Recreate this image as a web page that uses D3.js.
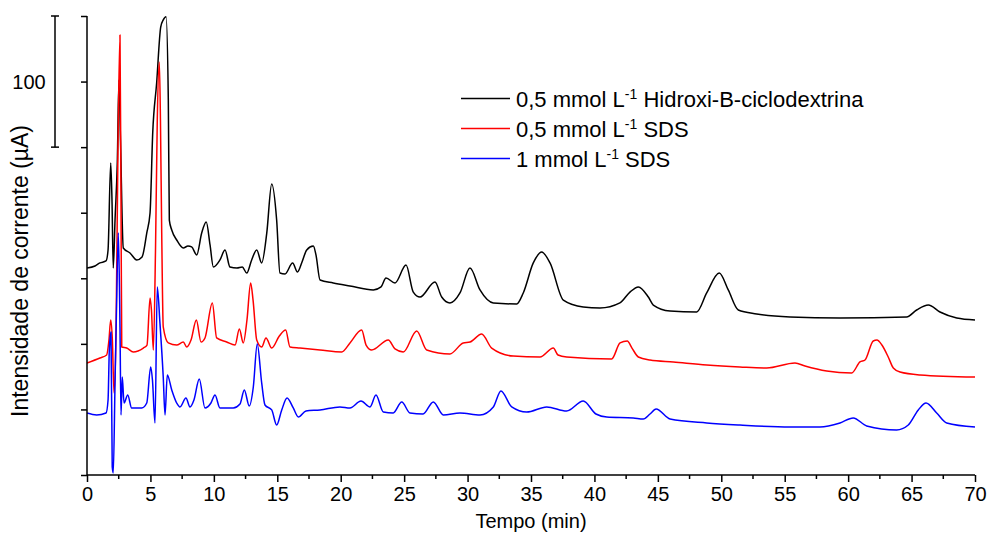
<!DOCTYPE html>
<html><head><meta charset="utf-8">
<script src="https://cdn.jsdelivr.net/npm/d3@7"></script>
<style>body{margin:0;background:#fff}svg text{font-family:"Liberation Sans",Arial,sans-serif}</style>
</head><body><svg id="c" width="990" height="543"></svg>
<script>
const seriesNames = ["0,5 mmol L-1 Hidroxi-Β-ciclodextrina","0,5 mmol L-1 SDS","1 mmol L-1 SDS"];
const seriesColors = ["#000000","#ff0000","#0000ff"];
const xTicks = [0,5,10,15,20,25,30,35,40,45,50,55,60,65,70];

const tBlack = [0,0.63,1.02,1.5,1.66,1.87,1.97,2.07,2.21,2.39,2.52,2.64,2.86,3.39,3.92,4.34,4.71,4.97,5.18,5.49,5.81,6.01,6.23,6.41,6.49,6.68,7.07,7.59,7.96,8.25,8.65,9.04,9.4,9.7,9.96,10.48,10.88,11.27,11.82,12.24,12.59,12.98,13.38,13.77,14.17,14.56,14.95,15.21,15.61,16.21,16.59,16.95,17.32,17.84,18.05,18.37,19.41,20.73,22.57,23.18,23.57,24.28,25.15,25.72,26.25,27.43,27.96,28.61,29.4,30.19,30.98,32.03,33.87,34.39,35.18,35.84,36.5,37.55,39.12,40.44,42.01,42.8,43.46,44.25,44.64,45.96,48.06,48.85,49.84,50.55,51.34,52.79,55.42,59.36,64.61,65.4,66.32,67.24,68.56,70];
const vBlack = [157.8,159.4,161.7,163.2,171.6,237.9,209.7,157.8,194.4,238.7,301.2,255.4,173.1,169.3,164.0,166.3,184.5,199.8,260.8,298.9,341.6,347.0,349.5,286.0,194.4,186.8,179.2,173.1,174.6,173.9,167.8,184.5,192.9,175.4,158.6,164.0,171.6,158.6,157.8,158.6,154.0,164.0,171.6,161.7,184.5,221.9,194.4,154.0,153.3,161.7,154.8,162.4,171.6,174.6,167.8,148.7,146.4,144.1,141.1,143.4,150.2,146.4,160.1,139.5,135.7,147.2,135.7,131.2,138.8,157.8,141.1,131.2,130.4,138.8,161.7,170.0,161.7,133.4,128.1,127.3,131.2,139.5,143.4,135.7,129.6,125.1,124.3,138.8,154.0,141.1,125.8,122.8,120.5,119.7,120.5,125.8,129.6,124.3,119.7,118.2];

const tRed = [0,1.02,1.55,1.73,1.87,2.0,2.13,2.29,2.44,2.6,2.68,2.74,3.13,3.65,4.44,4.73,4.97,5.08,5.23,5.4,5.54,5.7,5.79,5.89,6.01,6.41,7.07,7.59,7.86,8.2,8.62,8.99,9.3,9.88,10.22,11.01,11.67,12.01,12.32,12.61,12.9,13.09,13.38,13.77,14.11,14.56,15.16,15.66,16.0,16.79,18.37,20.08,20.73,21.65,22.0,22.44,23.75,24.28,24.93,25.99,26.78,28.61,29.66,30.19,31.11,31.9,33.6,35.71,36.76,37.13,37.81,41.36,42.02,42.59,42.96,43.46,44.38,46.22,48.85,51.47,53.58,55.81,56.6,58.31,60.28,60.93,61.33,61.98,62.27,62.66,63.16,63.56,64.09,65.66,70];
const vRed = [85.4,89.2,91.5,102.9,118.2,102.9,62.5,110.6,247.8,335.5,209.7,97.6,96.8,93.8,96.8,99.1,135.0,125.8,95.3,171.6,270.7,314.9,270.7,184.5,112.9,100.7,99.1,101.4,97.6,102.9,118.2,101.4,104.5,131.2,104.5,101.4,99.1,111.3,100.7,118.2,146.4,133.4,102.9,97.6,104.5,96.8,106.0,110.6,97.6,96.8,95.3,93.8,100.7,110.6,99.1,95.3,102.9,96.1,93.8,109.8,95.3,92.3,100.7,101.4,107.5,96.8,90.7,90.0,96.8,91.5,90.0,88.5,100.7,102.2,96.8,90.0,87.7,86.2,83.9,82.4,81.6,85.4,83.1,79.3,77.8,86.2,87.7,102.2,102.9,99.1,90.0,81.6,78.5,76.3,74.7];

const tBlue = [0,0.76,1.5,1.66,1.76,1.89,1.99,2.07,2.21,2.34,2.47,2.6,2.68,2.78,2.92,3.21,3.52,4.31,4.71,5.02,5.16,5.36,5.54,5.75,6.01,6.15,6.33,6.68,7.07,7.33,7.8,8.12,8.43,8.85,9.3,9.77,10.09,10.48,11.53,12.06,12.4,12.79,13.11,13.42,13.77,14.03,14.56,14.95,15.35,15.77,16.26,16.66,17.26,18.37,19.94,20.73,21.6,22.31,22.78,23.36,24.14,24.81,25.46,26.49,27.3,28.09,29.4,30.98,32.03,32.63,33.48,34.66,36.24,37.81,39.12,40.12,40.97,43.06,43.85,44.38,44.86,45.96,48.85,51.47,55.42,57.78,59.36,60.4,61.46,63.82,64.74,65.53,66.14,66.98,67.77,70];
const vBlue = [47.3,45.8,47.3,57.2,95.3,109.0,6.1,1.5,70.2,133.4,184.5,112.9,45.8,74.7,54.9,61.0,51.1,51.1,54.9,82.4,72.4,39.7,143.4,115.9,74.7,45.8,76.3,64.8,54.9,51.9,58.7,51.9,57.2,73.2,51.1,54.9,61.0,51.1,51.1,54.1,64.8,52.6,67.1,99.9,70.2,53.4,49.6,38.1,49.6,58.7,51.1,44.2,48.8,49.6,51.9,51.1,56.4,51.9,61.0,48.0,47.3,55.7,47.3,46.5,55.7,45.8,47.3,45.8,51.9,64.1,51.9,48.0,51.9,48.8,56.4,46.5,44.2,43.5,42.7,46.5,50.3,42.7,39.7,38.1,36.6,36.6,39.7,43.5,37.4,34.3,38.1,49.6,54.9,47.3,39.7,36.6];

const svg = d3.select("#c");
const L = 87, R = 975, T = 16, B = 475;
const x = d3.scaleLinear().domain([0,70]).range([L,R]);
const y = d3.scaleLinear().domain([0,350]).range([B,T]);

svg.append("clipPath").attr("id","clip").append("rect").attr("x",L).attr("y",T-1).attr("width",R-L+2).attr("height",B-T+1);

const line = d3.line().x(d=>x(d[0])).y(d=>y(d[1])).curve(d3.curveMonotoneX);
const series = [[tBlack,vBlack],[tRed,vRed],[tBlue,vBlue]];
[0,1,2].forEach(i=>{
  const [ts,vs] = series[i];
  svg.append("path").attr("clip-path","url(#clip)")
    .datum(ts.map((t,k)=>[t,vs[k]]))
    .attr("d",line).attr("fill","none").attr("stroke",seriesColors[i])
    .attr("stroke-width",1.5).attr("stroke-linejoin","round");
});

// x axis
const xAxis = d3.axisBottom(x).tickValues(xTicks).tickSize(7).tickPadding(5).tickFormat(d3.format("d"));
const gx = svg.append("g").attr("transform",`translate(0,${B})`).call(xAxis);
gx.select(".domain").attr("stroke","#000").attr("stroke-width",1.5).attr("d",`M${L},0H${R}`);
gx.selectAll(".tick line").attr("stroke-width",1.5);
gx.selectAll("text").attr("font-size",20).attr("fill","#000").attr("font-family","Liberation Sans, Arial, sans-serif");
const minor = d3.range(2.5,70,5);
gx.selectAll(".minor").data(minor).enter().append("line").attr("x1",d=>x(d)).attr("x2",d=>x(d))
  .attr("y1",0).attr("y2",4).attr("stroke","#000").attr("stroke-width",1.5);

// y axis
const yAxis = d3.axisLeft(y).tickValues(d3.range(0,351,50)).tickSize(6).tickFormat("");
const gy = svg.append("g").attr("transform",`translate(${L},0)`).call(yAxis);
gy.select(".domain").attr("stroke-width",1.5).attr("d",`M0,${B}V${T}`);
gy.selectAll(".tick line").attr("stroke-width",1.5);

// scale bar 100 µA
const sbX = 55;
const sb = svg.append("g").attr("stroke","#000").attr("stroke-width",1.5);
sb.append("line").attr("x1",sbX).attr("x2",sbX).attr("y1",y(350)).attr("y2",y(250));
sb.append("line").attr("x1",sbX-4).attr("x2",sbX+4).attr("y1",y(350)).attr("y2",y(350));
sb.append("line").attr("x1",sbX-4).attr("x2",sbX+4).attr("y1",y(250)).attr("y2",y(250));
svg.append("text").attr("x",29).attr("y",y(300)).attr("dy","0.35em").attr("text-anchor","middle")
  .attr("font-size",20).text("100");

// axis titles
svg.append("text").attr("x",(L+R)/2).attr("y",528).attr("text-anchor","middle").attr("font-size",20).text("Tempo (min)");
svg.append("text").attr("transform",`translate(28,${271}) rotate(-90)`).attr("text-anchor","middle")
  .attr("font-size",23).text("Intensidade de corrente (µA)");

// legend
const legY = [98.5,128.5,158.5];
seriesNames.forEach((n,i)=>{
  svg.append("line").attr("x1",461).attr("x2",510).attr("y1",legY[i]).attr("y2",legY[i])
    .attr("stroke",seriesColors[i]).attr("stroke-width",1.5);
  const parts = n.split("L-1");
  const tx = svg.append("text").attr("x",516).attr("y",legY[i]+8).attr("font-size",22);
  tx.append("tspan").text(parts[0]+"L");
  tx.append("tspan").attr("dy",-8).attr("font-size",14).text("-1");
  tx.append("tspan").attr("dy",8).text(parts[1]);
});
</script></body></html>
